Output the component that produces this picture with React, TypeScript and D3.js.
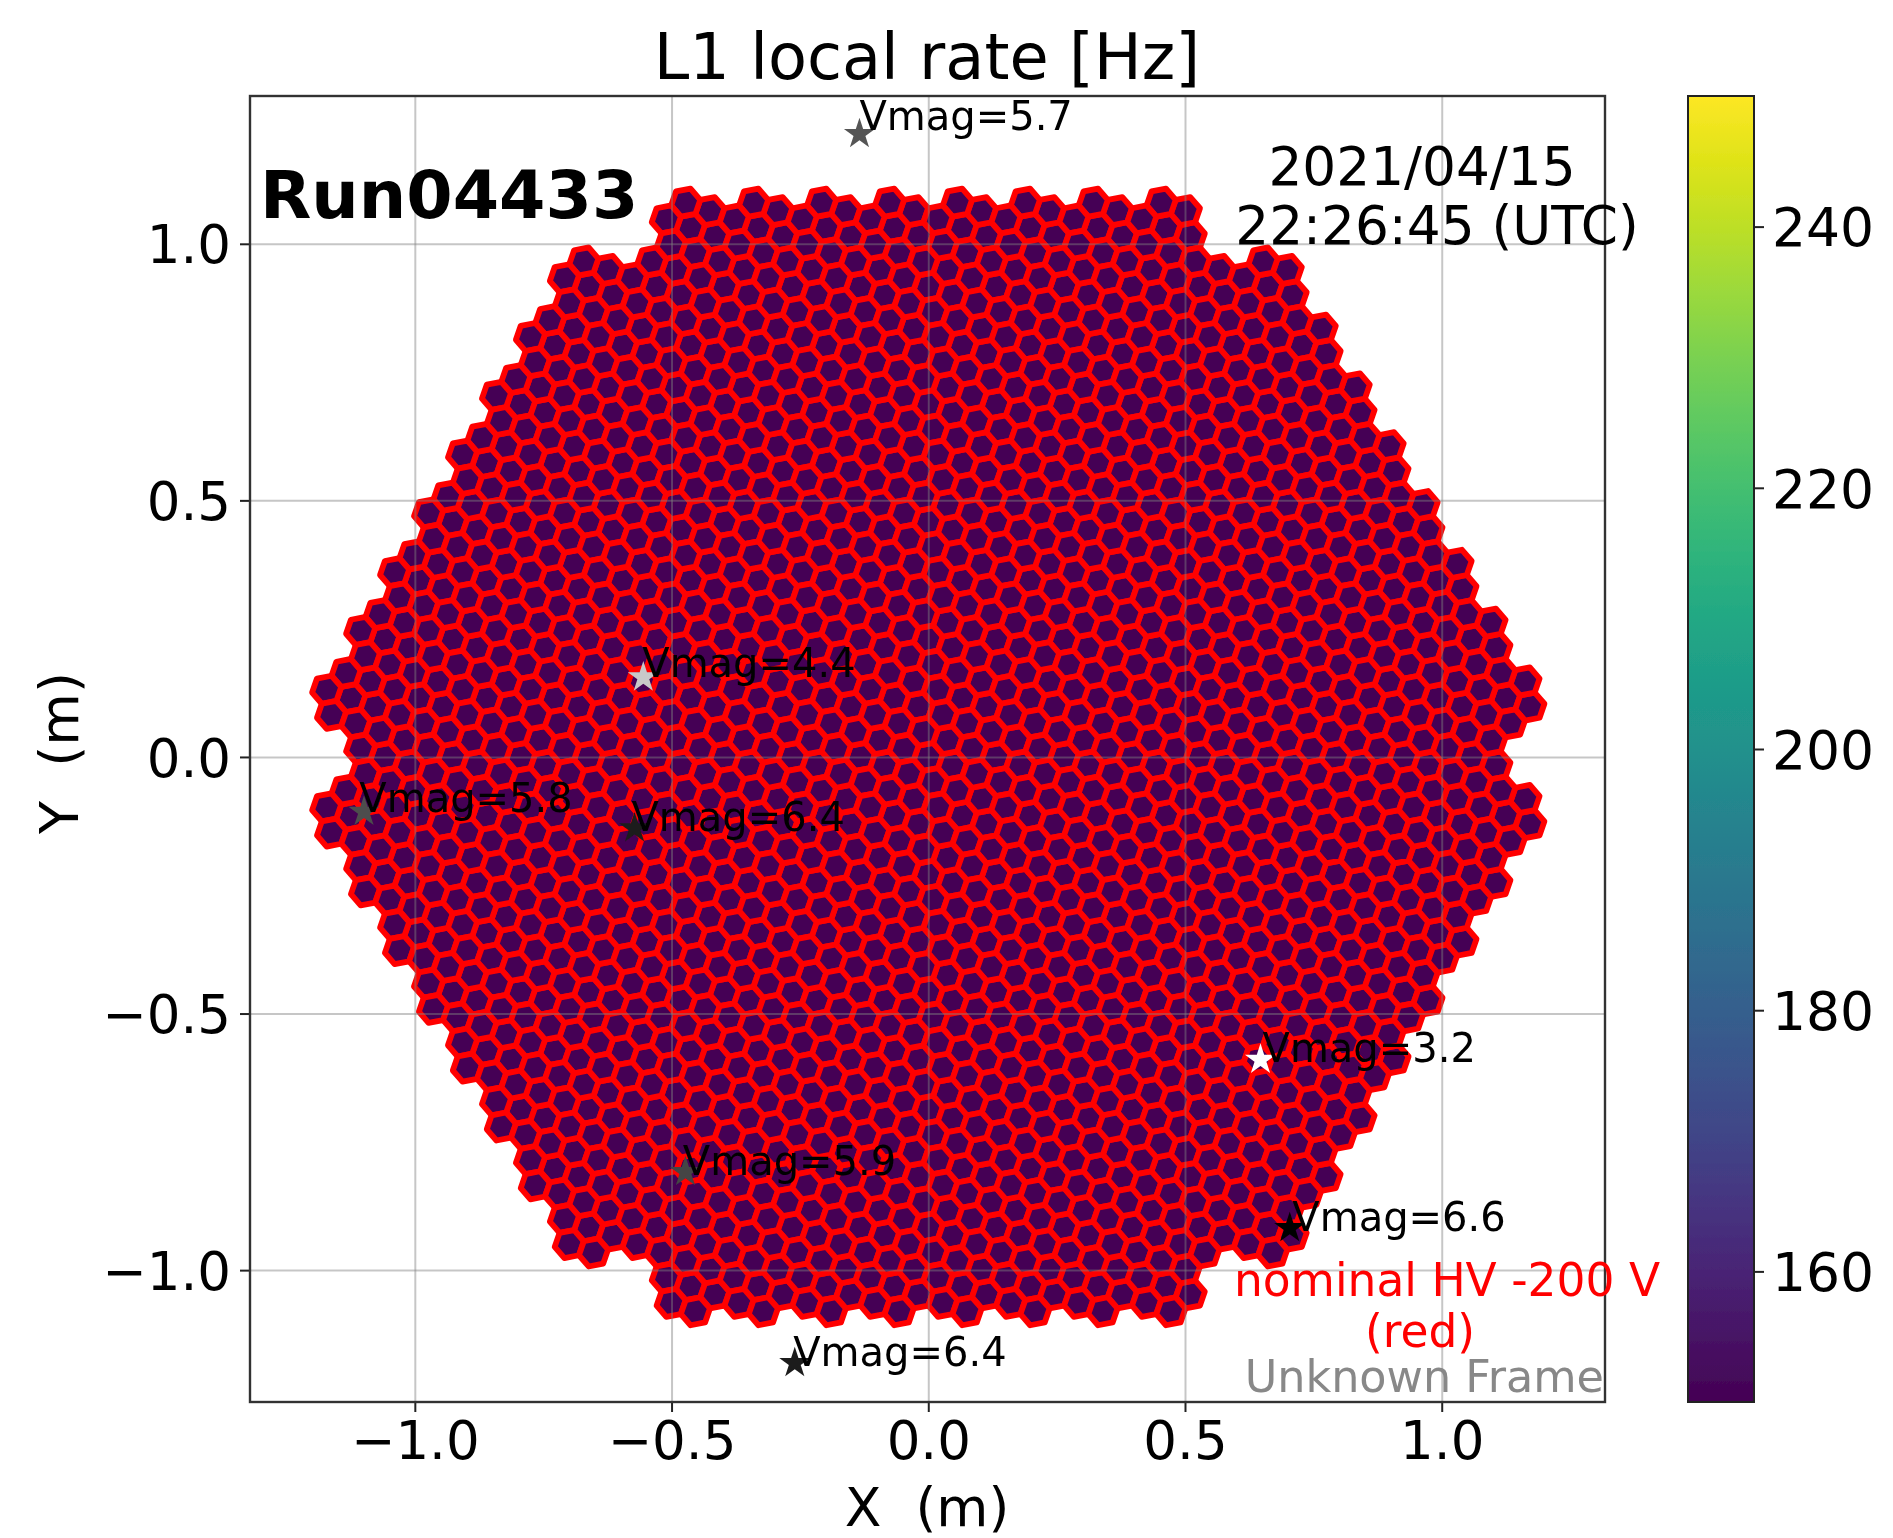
import { useEffect, useRef } from "react";
import * as d3 from "d3";

const WIDTH = 1893;
const HEIGHT = 1538;

const xTicks = [-1.0, -0.5, 0.0, 0.5, 1.0];
const yTicks = [-1.0, -0.5, 0.0, 0.5, 1.0];
const colorTicks = [160, 180, 200, 220, 240];

// stars in the field of view
const starVmag = [5.7, 4.4, 5.8, 6.4, 3.2, 5.9, 6.6, 6.4];
const starX = [-0.134, -0.555, -1.099, -0.572, 0.647, -0.473, 0.704, -0.26];
const starY = [1.214, 0.155, -0.107, -0.139, -0.59, -0.809, -0.918, -1.181];
const starGray = ["#555555", "#c8c8c8", "#4d4d4d", "#1c1c1c", "#ffffff", "#444444", "#000000", "#1c1c1c"];
const starLabelX = [-0.134, -0.557, -1.108, -0.578, 0.651, -0.478, 0.709, -0.263];
const starLabelY = [1.221, 0.155, -0.107, -0.144, -0.595, -0.814, -0.923, -1.186];

// every pixel sits at the bottom of the colour range in this frame
const cellRate = 150;
const rateDomain = [150, 250];

// camera layout: 7 pixel clusters on a hexagonal lattice, corners missing
const pixelSpacing = 0.05;
const latticeAngle = (-19.107 * Math.PI) / 180;
const moduleRings = 9;
const clusterOffsets = [[0, 0], [1, 0], [0, 1], [-1, 1], [-1, 0], [0, -1], [1, -1]];

function buildCells() {
  const cells: { x: number; y: number; rate: number }[] = [];
  const a1 = [Math.cos(latticeAngle), Math.sin(latticeAngle)];
  const a2 = [Math.cos(latticeAngle + Math.PI / 3), Math.sin(latticeAngle + Math.PI / 3)];
  for (let q = -moduleRings; q <= moduleRings; q++) {
    for (let r = -moduleRings; r <= moduleRings; r++) {
      const s = q + r;
      const ring = Math.max(Math.abs(q), Math.abs(r), Math.abs(s));
      if (ring > moduleRings) continue;
      if (ring === moduleRings && (q === 0 || r === 0 || s === 0)) continue;
      for (const [da, db] of clusterOffsets) {
        const a = q * 2 - r + da;
        const b = q + r * 3 + db;
        cells.push({
          x: pixelSpacing * (a * a1[0] + b * a2[0]),
          y: pixelSpacing * (a * a1[1] + b * a2[1]),
          rate: cellRate,
        });
      }
    }
  }
  return cells;
}

export default function App() {
  const svgRef = useRef<SVGSVGElement>(null);

  useEffect(() => {
    if (!svgRef.current) return;
    const svg = d3.select(svgRef.current);
    svg.selectAll("*").remove();

    const margin = { top: 96, left: 250, right: 1605, bottom: 1402 };
    const x = d3.scaleLinear().domain([-1.321, 1.318]).range([margin.left, margin.right]);
    const y = d3.scaleLinear().domain([-1.257, 1.288]).range([margin.bottom, margin.top]);
    const color = d3.scaleSequential(d3.interpolateViridis).domain(rateDomain as [number, number]);

    const defs = svg.append("defs");
    const blur = defs
      .append("filter")
      .attr("id", "soft")
      .attr("filterUnits", "userSpaceOnUse")
      .attr("x", 0)
      .attr("y", 0)
      .attr("width", WIDTH)
      .attr("height", HEIGHT);
    blur.append("feGaussianBlur").attr("stdDeviation", 0.6);

    const gradient = defs
      .append("linearGradient")
      .attr("id", "viridis")
      .attr("x1", "0")
      .attr("y1", "1")
      .attr("x2", "0")
      .attr("y2", "0");
    d3.range(0, 1.001, 0.05).forEach((t) => {
      gradient
        .append("stop")
        .attr("offset", `${t * 100}%`)
        .attr("stop-color", d3.interpolateViridis(t));
    });

    svg.append("rect").attr("width", WIDTH).attr("height", HEIGHT).attr("fill", "#fff");
    const root = svg
      .append("g")
      .attr("filter", "url(#soft)")
      .attr("font-family", "'DejaVu Sans'")
      .attr("fill", "#000");

    // Camera pixels
    const radius = x(pixelSpacing / Math.sqrt(3)) - x(0);
    const hexPoints = d3
      .range(6)
      .map((i) => {
        const angle = latticeAngle + Math.PI / 6 + (i * Math.PI) / 3;
        return `${radius * Math.cos(angle)},${-radius * Math.sin(angle)}`;
      })
      .join(" ");
    const cells = buildCells();
    root
      .append("g")
      .selectAll("polygon")
      .data(cells)
      .join("polygon")
      .attr("points", hexPoints)
      .attr("transform", (d) => `translate(${x(d.x)},${y(d.y)})`)
      .attr("fill", (d) => color(d.rate))
      .attr("stroke", "#ff0000")
      .attr("stroke-width", 5.8)
      .attr("stroke-linejoin", "round");

    // Grid lines
    const gridColor = "rgba(128,128,128,0.45)";
    root
      .append("g")
      .call(d3.axisBottom(x).tickValues(xTicks).tickSize(margin.top - margin.bottom).tickFormat(() => ""))
      .attr("transform", `translate(0,${margin.bottom})`)
      .call((g) => g.select(".domain").remove())
      .call((g) => g.selectAll(".tick line").attr("stroke", gridColor).attr("stroke-width", 2));
    root
      .append("g")
      .call(d3.axisLeft(y).tickValues(yTicks).tickSize(margin.left - margin.right).tickFormat(() => ""))
      .attr("transform", `translate(${margin.left},0)`)
      .call((g) => g.select(".domain").remove())
      .call((g) => g.selectAll(".tick line").attr("stroke", gridColor).attr("stroke-width", 2));

    // Axes
    const tickFormat = (d: d3.NumberValue) => d3.format(".1f")(d).replace("-", "\u2212");
    root
      .append("g")
      .attr("transform", `translate(0,${margin.bottom})`)
      .call(d3.axisBottom(x).tickValues(xTicks).tickSize(10).tickSizeOuter(0).tickPadding(9).tickFormat(tickFormat))
      .call((g) => g.select(".domain").remove())
      .call((g) => g.selectAll(".tick line").attr("stroke", "#222").attr("stroke-width", 2))
      .call((g) =>
        g
          .selectAll(".tick text")
          .attr("fill", "#000")
          .attr("font-family", "'DejaVu Sans'")
          .attr("font-size", 53),
      );
    root
      .append("g")
      .attr("transform", `translate(${margin.left},0)`)
      .call(d3.axisLeft(y).tickValues(yTicks).tickSize(10).tickSizeOuter(0).tickPadding(9).tickFormat(tickFormat))
      .call((g) => g.select(".domain").remove())
      .call((g) => g.selectAll(".tick line").attr("stroke", "#222").attr("stroke-width", 2))
      .call((g) =>
        g
          .selectAll(".tick text")
          .attr("fill", "#000")
          .attr("dy", "0.36em")
          .attr("font-family", "'DejaVu Sans'")
          .attr("font-size", 53),
      );
    root
      .append("rect")
      .attr("x", margin.left)
      .attr("y", margin.top)
      .attr("width", margin.right - margin.left)
      .attr("height", margin.bottom - margin.top)
      .attr("fill", "none")
      .attr("stroke", "#333")
      .attr("stroke-width", 2.4);

    // Stars
    const star = d3.symbol().type(d3.symbolStar).size(300)();
    const stars = starVmag.map((vmag, i) => ({
      vmag,
      x: starX[i],
      y: starY[i],
      gray: starGray[i],
      labelX: starLabelX[i],
      labelY: starLabelY[i],
    }));
    root
      .append("g")
      .selectAll("path")
      .data(stars)
      .join("path")
      .attr("d", star)
      .attr("transform", (d) => `translate(${x(d.x)},${y(d.y)})`)
      .attr("fill", (d) => d.gray);
    root
      .append("g")
      .selectAll("text")
      .data(stars)
      .join("text")
      .attr("x", (d) => x(d.labelX))
      .attr("y", (d) => y(d.labelY))
      .attr("font-size", 40)
      .text((d) => `Vmag=${d.vmag}`);

    // Text annotations
    const label = (
      tx: number,
      ty: number,
      text: string,
      size: number,
      anchor = "middle",
      extra: Record<string, string> = {},
    ) => {
      const t = root
        .append("text")
        .attr("x", tx)
        .attr("y", ty)
        .attr("font-size", size)
        .attr("text-anchor", anchor)
        .style("white-space", "pre")
        .text(text);
      Object.entries(extra).forEach(([k, v]) => t.attr(k, v));
      return t;
    };
    label(927, 79, "L1 local rate [Hz]", 63.8);
    label(260, 218, "Run04433", 66.7, "start", { "font-weight": "bold" });
    label(1422, 185, "2021/04/15", 53.3);
    label(1437, 244, "22:26:45 (UTC)", 53.3);
    label(1447, 1296, "nominal HV -200 V", 45.5, "middle", { fill: "#ff0000" });
    label(1420, 1347, "(red)", 45.5, "middle", { fill: "#ff0000" });
    label(1604, 1392, "Unknown Frame", 44.5, "end", { fill: "#888888" });
    label(927, 1526, "X  (m)", 53.5);
    label(0, 0, "Y  (m)", 54, "middle", { transform: "translate(78,753) rotate(-90)" });

    // Colour bar
    const barX = 1688;
    const barW = 66;
    const c = d3.scaleLinear().domain(rateDomain).range([margin.bottom, margin.top]);
    root
      .append("rect")
      .attr("x", barX)
      .attr("y", margin.top)
      .attr("width", barW)
      .attr("height", margin.bottom - margin.top)
      .attr("fill", "url(#viridis)")
      .attr("stroke", "#222")
      .attr("stroke-width", 2);
    root
      .append("g")
      .attr("transform", `translate(${barX + barW},0)`)
      .call(d3.axisRight(c).tickValues(colorTicks).tickSize(10).tickSizeOuter(0).tickPadding(8).tickFormat((d) => String(d)))
      .call((g) => g.select(".domain").remove())
      .call((g) => g.selectAll(".tick line").attr("stroke", "#222").attr("stroke-width", 2))
      .call((g) =>
        g
          .selectAll(".tick text")
          .attr("fill", "#000")
          .attr("dy", "0.36em")
          .attr("font-family", "'DejaVu Sans'")
          .attr("font-size", 53.5),
      );
  }, []);

  return (
    <svg
      ref={svgRef}
      width={WIDTH}
      height={HEIGHT}
      style={{ position: "absolute", left: 0, top: 0, display: "block" }}
      role="img"
      aria-label="L1 local rate camera display"
    />
  );
}
